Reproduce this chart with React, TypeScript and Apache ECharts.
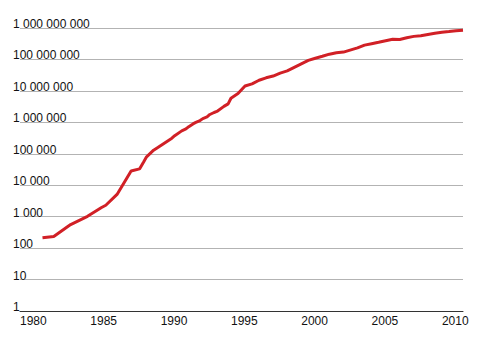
import React, { useEffect, useRef } from "react";
import * as echarts from "echarts";

const years = [
  1981.6, 1982.4, 1983.6, 1984.8, 1985.8, 1986.1, 1986.9, 1987.9, 1988.5, 1988.8,
  1989.0, 1989.5, 1989.8, 1990.8, 1991.0, 1991.5, 1991.8, 1992.0, 1992.3, 1992.5,
  1992.8, 1993.0, 1993.3, 1993.5, 1993.8, 1994.0, 1994.5, 1994.8, 1995.0, 1995.5,
  1996.0, 1996.5, 1997.0, 1997.5, 1998.0, 1998.5, 1999.0, 1999.5, 2000.0, 2000.5,
  2001.0, 2001.5, 2002.0, 2002.5, 2003.0, 2004.0, 2004.5, 2005.0, 2005.5, 2006.0,
  2006.5, 2007.0, 2007.5, 2008.0, 2008.5, 2009.0, 2009.5, 2010.0, 2010.5, 2011.0,
  2011.5,
];

const hosts = [
  213, 235, 562, 1024, 1961, 2308, 5089, 28174, 33000, 56000,
  80000, 130000, 159000, 313000, 376000, 535000, 617000, 727000, 890000, 992000,
  1136000, 1313000, 1486000, 1776000, 2056000, 2217000, 3212000, 3864000, 5846000, 8200000,
  14352000, 16729000, 21819000, 26053000, 29670000, 36739000, 43230000, 56218000, 72398000, 93047000,
  109574000, 125888000, 147345000, 162128000, 171638000, 233101000, 285139000, 317646000, 353284000, 394991000,
  439286000, 433193000, 489774000, 541677000, 570937000, 625226000, 681064000, 732740000, 768913000, 818374000,
  849869000,
];

const yTicks = [1, 10, 100, 1000, 10000, 100000, 1000000, 10000000, 100000000, 1000000000];

function fmt(v: number): string {
  const s = String(Math.round(v));
  return s.replace(/\B(?=(\d{3})+(?!\d))/g, " ");
}

export default function App() {
  const ref = useRef<HTMLDivElement>(null);
  useEffect(() => {
    if (!ref.current) return;
    const chart = echarts.init(ref.current, undefined, { renderer: "svg" });
    chart.setOption({
      animation: false,
      backgroundColor: "#ffffff",
      textStyle: { fontFamily: "Liberation Sans, Arial, sans-serif" },
      grid: { left: 20, right: 16, top: 28, bottom: 43, containLabel: false },
      xAxis: {
        type: "value",
        min: 1980,
        max: 2011.5,
        interval: 5,
        axisLine: { show: true, lineStyle: { color: "#333333", width: 1 } },
        axisTick: { show: false },
        splitLine: { show: false },
        axisLabel: {
          color: "#111111",
          fontSize: 12,
          align: "left",
          margin: 4,
          showMaxLabel: false,
          formatter: (v: number) => (v % 5 === 0 ? String(v) : ""),
        },
      },
      yAxis: {
        type: "log",
        logBase: 10,
        min: yTicks[0],
        max: yTicks[yTicks.length - 1],
        axisLine: { show: false },
        axisTick: { show: false },
        splitLine: { show: true, lineStyle: { color: "#b3b3b3", width: 1 } },
        axisLabel: {
          color: "#111111",
          fontSize: 12,
          align: "left",
          verticalAlign: "bottom",
          margin: 7,
          padding: [0, 0, -2, 0],
          formatter: (v: number) => fmt(v),
        },
      },
      series: [
        {
          type: "line",
          data: years.map((y, i) => [y, hosts[i]]),
          showSymbol: false,
          symbol: "none",
          lineStyle: { color: "#d12026", width: 3 },
          itemStyle: { color: "#d12026" },
        },
      ],
    });
    return () => chart.dispose();
  }, []);
  return <div ref={ref} style={{ width: 479, height: 354, position: "absolute", left: 0, top: 0 }} />;
}
